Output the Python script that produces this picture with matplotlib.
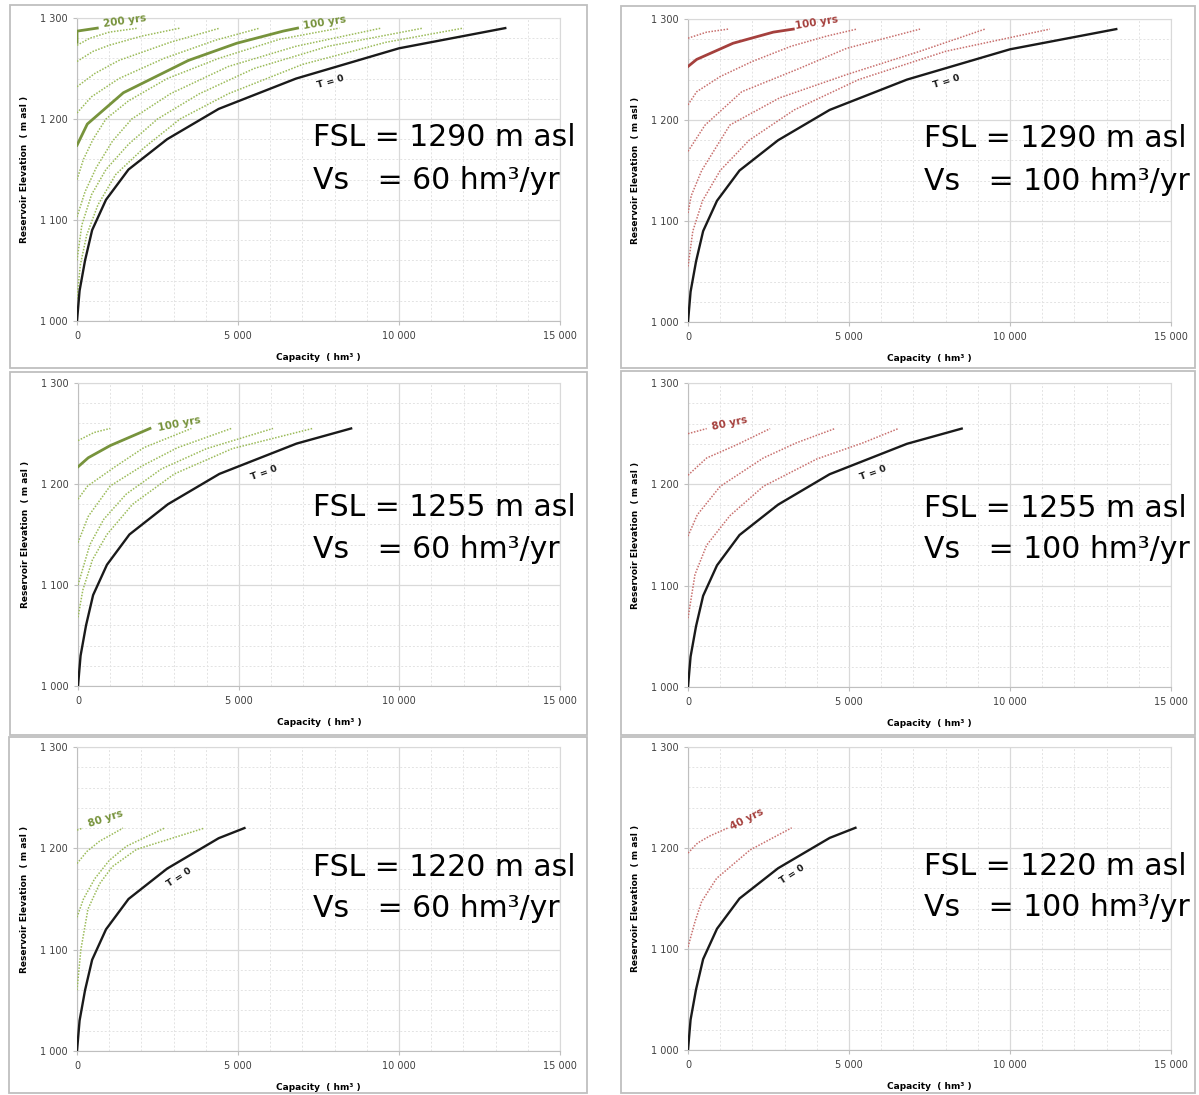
import matplotlib
matplotlib.use('Agg')
import matplotlib.pyplot as plt
from matplotlib.patches import Rectangle
from matplotlib.ticker import MultipleLocator, FuncFormatter

# storage curve at T = 0 (capacity hm3 vs elevation m asl)
t0_cap = [0, 80, 250, 470, 900, 1600, 2800, 4400, 6800, 10000, 13300]
t0_elev = [1000, 1030, 1060, 1090, 1120, 1150, 1180, 1210, 1240, 1270, 1290]
# capacity at the full supply level of each case
fsl_cap = {1290: 13300, 1255: 8500, 1220: 5200}

# sedimented storage curves: years -> (capacity, elevation)
tl_curves = {
    20: ([0, 100, 300, 650, 1200, 2100, 3200, 4700, 7000, 9600, 12000],
         [1022, 1055, 1085, 1115, 1145, 1172, 1200, 1225, 1254, 1276, 1290]),
    40: ([0, 150, 450, 900, 1600, 2500, 3800, 5500, 7800, 10750],
         [1060, 1095, 1125, 1150, 1175, 1200, 1225, 1250, 1272, 1290]),
    60: ([0, 250, 600, 1100, 1700, 2900, 4700, 6800, 9450],
         [1103, 1128, 1152, 1178, 1200, 1225, 1252, 1272, 1290]),
    80: ([0, 200, 500, 900, 1600, 2800, 4400, 6300, 8150],
         [1140, 1160, 1180, 1200, 1218, 1240, 1260, 1279, 1290]),
    100: ([0, 320, 1440, 3460, 4960, 6400, 6850],
          [1174, 1195, 1226, 1258, 1275, 1287, 1290]),
    120: ([0, 450, 1300, 2700, 4300, 5680],
          [1206, 1222, 1240, 1260, 1278, 1290]),
    140: ([0, 550, 1300, 2900, 4440], [1232, 1245, 1258, 1276, 1290]),
    160: ([0, 500, 1000, 2000, 3200], [1257, 1267, 1273, 1282, 1290]),
    180: ([0, 400, 1000, 1900], [1273, 1280, 1286, 1290]),
    200: ([0, 0, 630], [1276, 1287, 1290]),
}
tr_curves = {
    20: ([0, 150, 450, 1000, 1900, 3300, 5300, 8000, 11240],
         [1055, 1090, 1120, 1150, 1180, 1210, 1240, 1268, 1290]),
    40: ([0, 100, 425, 1300, 2850, 4930, 7200, 9225],
         [1108, 1125, 1150, 1195, 1222, 1245, 1268, 1290]),
    60: ([0, 530, 1670, 3380, 4930, 7206], [1169, 1195, 1228, 1250, 1271, 1290]),
    80: ([0, 270, 1000, 2000, 3200, 4300, 5240],
         [1215, 1228, 1243, 1258, 1273, 1283, 1290]),
    100: ([0, 270, 1400, 2650, 3270], [1253, 1260, 1276, 1287, 1290]),
    120: ([0, 580, 1250], [1281, 1287, 1290]),
}
ml_curves = {
    20: ([0, 150, 450, 900, 1700, 3000, 4800, 7300],
         [1068, 1095, 1125, 1150, 1180, 1210, 1235, 1255]),
    40: ([0, 370, 800, 1500, 2600, 4000, 6070],
         [1100, 1140, 1165, 1190, 1215, 1235, 1255]),
    60: ([0, 320, 1000, 2000, 3100, 4770], [1142, 1168, 1198, 1218, 1236, 1255]),
    80: ([0, 300, 1150, 2050, 3530], [1185, 1198, 1217, 1236, 1255]),
    100: ([0, 320, 1000, 2240], [1217, 1226, 1238, 1255]),
    120: ([0, 500, 1000], [1243, 1251, 1255]),
}
mr_curves = {
    20: ([0, 217, 580, 1300, 2340, 4000, 5440, 6530],
         [1068, 1111, 1140, 1169, 1198, 1225, 1241, 1255]),
    40: ([0, 290, 1000, 2340, 3370, 4560], [1149, 1170, 1198, 1226, 1241, 1255]),
    60: ([0, 580, 1510, 2550], [1209, 1226, 1239, 1255]),
    80: ([0, 580], [1250, 1255]),
}
bl_curves = {
    20: ([0, 120, 340, 700, 1100, 1850, 3960],
         [1060, 1100, 1140, 1165, 1182, 1199, 1220]),
    40: ([0, 200, 550, 1000, 1530, 2720], [1132, 1150, 1170, 1188, 1202, 1220]),
    60: ([0, 310, 700, 1430], [1185, 1197, 1207, 1220]),
    80: ([0, 180], [1218, 1220]),
}
br_curves = {
    20: ([0, 217, 424, 890, 1925, 3220], [1102, 1127, 1147, 1170, 1198, 1220]),
    40: ([0, 300, 683, 1250], [1195, 1205, 1212, 1220]),
}

GREEN, GREEN_DOT = '#77933C', '#9BBB59'
RED, RED_DOT = '#A5403D', '#C8706E'

W, H = 1199, 1095
fig = plt.figure(figsize=(W / 100, H / 100), dpi=100)

# frames around each chart (pixels: x0, y0, x1, y1)
frames = [(10, 5, 587, 368), (621, 6, 1195, 368),
          (10, 372, 587, 735), (621, 371, 1195, 735),
          (9, 737, 587, 1093), (621, 737, 1195, 1093)]
for x0, y0, x1, y1 in frames:
    fig.patches.append(Rectangle((x0 / W, 1 - y1 / H), (x1 - x0) / W, (y1 - y0) / H,
                                 transform=fig.transFigure, fill=False,
                                 edgecolor='#BFBFBF', lw=1.3))


def fmt(v, pos):
    return f'{int(v):,}'.replace(',', ' ')


def draw_panel(box, fsl, vs, curves, solid, col, col_dot, labels, tpos):
    left, top, right, bottom = box
    ax = fig.add_axes([left / W, 1 - bottom / H, (right - left) / W, (bottom - top) / H])
    ax.set_xlim(0, 15000)
    ax.set_ylim(1000, 1300)
    ax.xaxis.set_major_locator(MultipleLocator(5000))
    ax.xaxis.set_minor_locator(MultipleLocator(1000))
    ax.yaxis.set_major_locator(MultipleLocator(100))
    ax.yaxis.set_minor_locator(MultipleLocator(20))
    ax.grid(which='major', color='#D9D9D9', lw=0.9)
    ax.grid(which='minor', color='#E3E3E3', lw=0.7, linestyle=(0, (2, 2)))
    ax.xaxis.set_major_formatter(FuncFormatter(fmt))
    ax.yaxis.set_major_formatter(FuncFormatter(fmt))
    ax.tick_params(which='major', length=3, color='#BFBFBF', labelsize=7,
                   labelcolor='#404040', pad=4)
    ax.tick_params(which='minor', length=0)
    for s in ['top', 'right']:
        ax.spines[s].set_color('#D9D9D9')
    for s in ['left', 'bottom']:
        ax.spines[s].set_color('#BFBFBF')
    ax.set_axisbelow(True)
    ax.set_ylabel('Reservoir Elevation  ( m asl )', fontsize=6.5, fontweight='bold')
    ax.set_xlabel('Capacity  ( hm³ )', fontsize=6.5, fontweight='bold')
    ax.yaxis.set_label_coords(-0.1, 0.5)
    ax.xaxis.set_label_coords(0.5, -0.105)

    for yr, (cap, elev) in curves.items():
        if yr in solid:
            ax.plot(cap, elev, color=col, lw=2, zorder=3)
        else:
            ax.plot(cap, elev, color=col_dot, lw=1.1, linestyle=(0, (1, 1)), zorder=3)

    # T = 0 curve cut at the full supply level
    cap0 = [c for c, e in zip(t0_cap, t0_elev) if e < fsl] + [fsl_cap[fsl]]
    elev0 = [e for e in t0_elev if e < fsl] + [fsl]
    ax.plot(cap0, elev0, color='#1a1a1a', lw=1.7, zorder=4)

    for txt, x, y, rot in labels:
        ax.text(x, y, txt, color=col, fontsize=7.5, fontweight='bold', rotation=rot,
                ha='center', va='center', rotation_mode='anchor', zorder=5)
    ax.text(tpos[0], tpos[1], 'T = 0', color='#1a1a1a', fontsize=6.8, fontweight='bold',
            rotation=tpos[2], ha='center', va='center', rotation_mode='anchor', zorder=5)

    ax.text(0.488, tpos[3], f'FSL = {fsl} m asl', transform=ax.transAxes,
            fontsize=21.5, ha='left', va='center', zorder=6)
    ax.text(0.488, tpos[4], f'Vs   = {vs} hm³/yr', transform=ax.transAxes,
            fontsize=21.5, ha='left', va='center', zorder=6)
    return ax


draw_panel((77, 18, 560, 321), 1290, 60, tl_curves, [100, 200], GREEN, GREEN_DOT,
           [('200 yrs', 1490, 1297, 8), ('100 yrs', 7700, 1295.5, 9)],
           (7860, 1237, 16, 0.605, 0.465))
draw_panel((688, 19, 1171, 322), 1290, 100, tr_curves, [100], RED, RED_DOT,
           [('100 yrs', 4000, 1296, 9)],
           (8040, 1238, 17, 0.605, 0.465))
draw_panel((78, 383, 560, 686), 1255, 60, ml_curves, [100], GREEN, GREEN_DOT,
           [('100 yrs', 3140, 1259, 11)],
           (5780, 1211, 20, 0.588, 0.452))
draw_panel((688, 383, 1171, 687), 1255, 100, mr_curves, [], RED, RED_DOT,
           [('80 yrs', 1300, 1260, 12)],
           (5750, 1211, 20, 0.588, 0.452))
draw_panel((77, 747, 560, 1051), 1220, 60, bl_curves, [], GREEN, GREEN_DOT,
           [('80 yrs', 890, 1229, 18)],
           (3160, 1171, 33, 0.605, 0.469))
draw_panel((688, 747, 1171, 1050), 1220, 100, br_curves, [], RED, RED_DOT,
           [('40 yrs', 1830, 1228, 27)],
           (3230, 1174, 33, 0.605, 0.469))

fig.savefig('out.png', dpi=100)
